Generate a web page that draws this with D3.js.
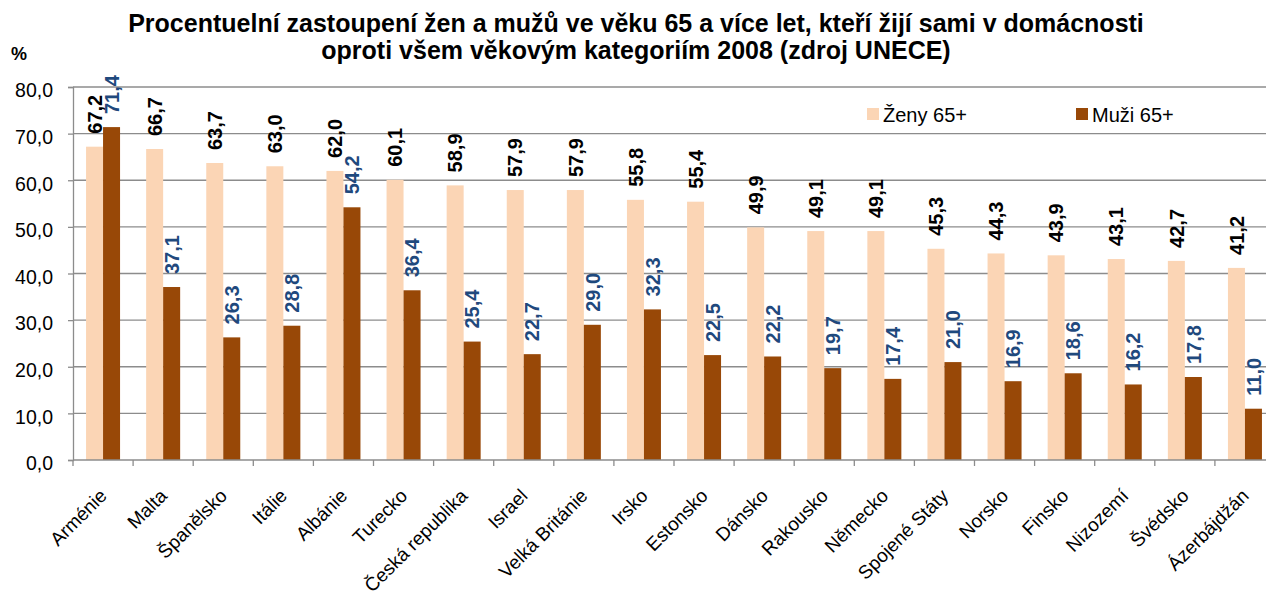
<!DOCTYPE html>
<html>
<head>
<meta charset="utf-8">
<script src="https://cdn.jsdelivr.net/npm/d3@7"></script>
<style>
  body { margin: 0; background: #fff; }
  svg { font-family: "Liberation Sans", Arial, sans-serif; }
</style>
</head>
<body>
<div id="chart"></div>
<script>
// Data
let countries = ['Arménie', 'Malta', 'Španělsko', 'Itálie', 'Albánie', 'Turecko', 'Česká republika',
  'Israel', 'Velká Británie', 'Irsko', 'Estonsko', 'Dánsko', 'Rakousko', 'Německo', 'Spojené Státy',
  'Norsko', 'Finsko', 'Nizozemí', 'Švédsko', 'Ázerbájdžán'];
let women = [67.2, 66.7, 63.7, 63.0, 62.0, 60.1, 58.9, 57.9, 57.9, 55.8, 55.4, 49.9, 49.1, 49.1, 45.3,
  44.3, 43.9, 43.1, 42.7, 41.2];
let men = [71.4, 37.1, 26.3, 28.8, 54.2, 36.4, 25.4, 22.7, 29.0, 32.3, 22.5, 22.2, 19.7, 17.4, 21.0,
  16.9, 18.6, 16.2, 17.8, 11.0];
let seriesNames = ['Ženy 65+', 'Muži 65+'];
let yTicks = [0, 10, 20, 30, 40, 50, 60, 70, 80];
let titleLines = ['Procentuelní zastoupení žen a mužů ve věku 65 a více let, kteří žijí sami v domácnosti',
  'oproti všem věkovým kategoriím 2008 (zdroj UNECE)'];

let width = 1268;
let height = 596;
let colors = ['#FBD5B5', '#984807'];
let labelColors = ['#000000', '#1F497D'];
let axisColor = '#8c8c8c';
let fmt = v => v.toFixed(1).replace('.', ',');

let svg = d3.select('#chart').append('svg')
    .attr('width', width)
    .attr('height', height);

// Scales
let x = d3.scaleBand().domain(countries).range([73, 1275]);
let y = d3.scaleLinear().domain([0, 80]).range([460, 87]);
let barW = 17;

// Gridlines
svg.append('g').selectAll('line').data(yTicks.slice(1)).enter().append('line')
    .attr('x1', 73).attr('x2', 1266)
    .attr('y1', d => y(d)).attr('y2', d => y(d))
    .attr('stroke', axisColor).attr('stroke-width', 1.3);

// Bars + rotated value labels
let series = [women, men];
series.forEach((vals, s) => {
  svg.append('g').selectAll('rect').data(countries).enter().append('rect')
      .attr('x', d => x(d) + x.bandwidth() / 2 - barW + s * barW)
      .attr('y', (d, i) => y(vals[i]))
      .attr('width', barW)
      .attr('height', (d, i) => y(0) - y(vals[i]))
      .attr('fill', colors[s]);

  svg.append('g').selectAll('text').data(countries).enter().append('text')
      .attr('transform', (d, i) => `translate(${x(d) + x.bandwidth() / 2 - barW / 2 + s * barW}, ${y(vals[i]) - 13}) rotate(-90)`)
      .attr('dy', '0.36em')
      .attr('font-size', 20)
      .attr('font-weight', 'bold')
      .attr('fill', labelColors[s])
      .text((d, i) => fmt(vals[i]));
});

// Y axis
let yAxis = svg.append('g')
    .attr('transform', 'translate(73,0)')
    .call(d3.axisLeft(y).tickValues(yTicks).tickSize(5).tickFormat(fmt));
yAxis.attr('font-family', null);
yAxis.selectAll('.domain, line').attr('stroke', axisColor).attr('stroke-width', 1.3);
yAxis.selectAll('text')
    .attr('font-size', 19.5)
    .attr('fill', '#000')
    .attr('x', -20)
    .attr('dy', '0.5em');

// X axis
let xAxis = svg.append('g')
    .attr('transform', 'translate(0,460)');
xAxis.append('line')
    .attr('x1', 73).attr('x2', 1266)
    .attr('stroke', axisColor).attr('stroke-width', 1.3);
xAxis.selectAll('line.tick').data(countries).enter().append('line')
    .attr('class', 'tick')
    .attr('x1', d => x(d)).attr('x2', d => x(d))
    .attr('y1', 0).attr('y2', 6)
    .attr('stroke', axisColor).attr('stroke-width', 1.3);
xAxis.selectAll('text').data(countries).enter().append('text')
    .attr('transform', d => `translate(${x(d) + x.bandwidth() / 2 + 5}, 37) rotate(-45)`)
    .attr('text-anchor', 'end')
    .attr('font-size', 19)
    .text(d => d);

// Title
svg.append('g').selectAll('text').data(titleLines).enter().append('text')
    .attr('x', 636)
    .attr('y', (d, i) => 32 + i * 27)
    .attr('text-anchor', 'middle')
    .attr('font-size', 25)
    .attr('font-weight', 'bold')
    .text(d => d);

// Unit label
svg.append('text')
    .attr('x', 11).attr('y', 60)
    .attr('font-size', 18).attr('font-weight', 'bold')
    .text('%');

// Legend
let legendX = [867, 1076];
seriesNames.forEach((name, s) => {
  svg.append('rect')
      .attr('x', legendX[s]).attr('y', 108)
      .attr('width', 12).attr('height', 12)
      .attr('fill', colors[s]);
  svg.append('text')
      .attr('x', legendX[s] + 16).attr('y', 122)
      .attr('font-size', 20)
      .text(name);
});
</script>
</body>
</html>
